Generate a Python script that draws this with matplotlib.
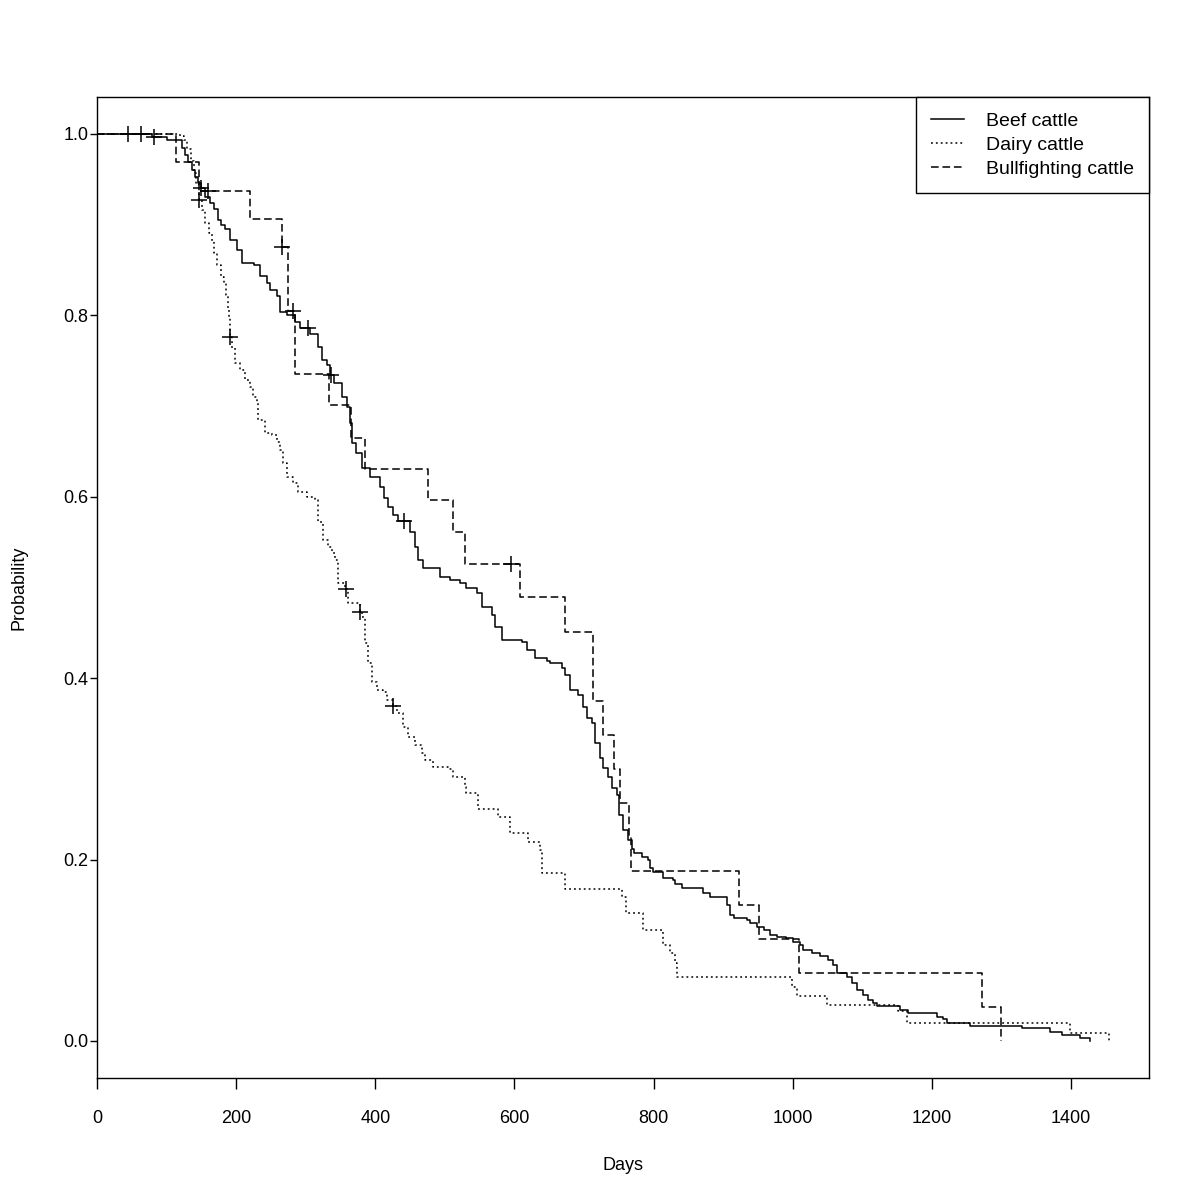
import matplotlib
matplotlib.use("Agg")
import matplotlib.pyplot as plt
import numpy as np

plt.rcParams['font.family'] = ['Liberation Sans', 'DejaVu Sans']

# Kaplan-Meier steps (time in days, survival after the step)
beef_t = [0, 79, 100, 122, 126, 131, 136, 141, 145, 149, 155, 162, 168, 174, 178, 184,
          191, 201, 208, 226, 234, 244, 249, 259, 263, 273, 285, 292, 306, 318, 323,
          330, 335, 340, 352, 359, 364, 366, 373, 381, 393, 407, 412, 418, 426, 433,
          450, 457, 462, 469, 493, 507, 522, 531, 546, 553, 568, 572, 582, 611, 618,
          630, 647, 651, 668, 673, 680, 692, 699, 704, 711, 716, 723, 727, 735, 740,
          747, 750, 756, 763, 769, 772, 783, 792, 795, 799, 814, 828, 831, 841, 871,
          881, 906, 910, 915, 934, 939, 948, 958, 967, 977, 991, 1001, 1010, 1015,
          1028, 1039, 1051, 1058, 1064, 1078, 1085, 1092, 1101, 1108, 1116, 1121,
          1154, 1166, 1207, 1216, 1222, 1255, 1330, 1370, 1387, 1413, 1427]
beef_s = [1.0, 0.997, 0.993, 0.985, 0.977, 0.969, 0.960, 0.953, 0.946, 0.940, 0.931,
          0.924, 0.917, 0.905, 0.900, 0.895, 0.883, 0.872, 0.858, 0.856, 0.843, 0.836,
          0.828, 0.821, 0.804, 0.800, 0.793, 0.786, 0.780, 0.765, 0.751, 0.745, 0.734,
          0.725, 0.710, 0.699, 0.681, 0.659, 0.648, 0.632, 0.622, 0.611, 0.599, 0.589,
          0.580, 0.573, 0.561, 0.545, 0.530, 0.521, 0.512, 0.508, 0.505, 0.499, 0.494,
          0.479, 0.470, 0.456, 0.442, 0.440, 0.431, 0.422, 0.419, 0.417, 0.411, 0.403,
          0.387, 0.381, 0.368, 0.356, 0.351, 0.329, 0.312, 0.301, 0.291, 0.279, 0.271,
          0.249, 0.233, 0.222, 0.212, 0.207, 0.203, 0.200, 0.191, 0.186, 0.180, 0.177,
          0.173, 0.169, 0.163, 0.159, 0.150, 0.139, 0.136, 0.133, 0.130, 0.126, 0.122,
          0.117, 0.115, 0.114, 0.109, 0.106, 0.100, 0.097, 0.094, 0.089, 0.084, 0.075,
          0.071, 0.064, 0.056, 0.051, 0.045, 0.042, 0.038, 0.034, 0.031, 0.026, 0.024,
          0.020, 0.0165, 0.014, 0.010, 0.0066, 0.0033, 0.0]
beef_cens = [45, 63, 82, 150, 304, 336, 441]

dairy_t = [0, 120, 125, 130, 135, 139, 143, 146, 151, 155, 161, 165, 168, 172, 178,
           183, 185, 188, 190, 191, 194, 198, 206, 213, 220, 224, 230, 232, 241, 251,
           259, 263, 267, 273, 282, 289, 302, 313, 318, 325, 332, 338, 342, 347, 357,
           361, 378, 381, 385, 390, 395, 402, 411, 417, 425, 431, 440, 447, 457, 467,
           471, 483, 505, 512, 529, 531, 548, 576, 594, 620, 637, 639, 673, 754, 761,
           785, 813, 824, 831, 834, 999, 1006, 1049, 1151, 1164, 1398, 1455]
dairy_s = [1.0, 0.998, 0.993, 0.983, 0.970, 0.957, 0.945, 0.927, 0.916, 0.902, 0.891,
           0.882, 0.869, 0.855, 0.842, 0.836, 0.822, 0.808, 0.797, 0.776, 0.764, 0.748,
           0.740, 0.729, 0.721, 0.710, 0.703, 0.685, 0.670, 0.668, 0.660, 0.652, 0.637,
           0.622, 0.615, 0.605, 0.600, 0.596, 0.572, 0.552, 0.545, 0.538, 0.530, 0.505,
           0.498, 0.483, 0.473, 0.467, 0.439, 0.417, 0.396, 0.387, 0.385, 0.376, 0.369,
           0.362, 0.346, 0.335, 0.326, 0.317, 0.310, 0.302, 0.300, 0.291, 0.280, 0.273,
           0.256, 0.247, 0.229, 0.219, 0.211, 0.185, 0.168, 0.159, 0.141, 0.122, 0.106,
           0.097, 0.086, 0.071, 0.060, 0.050, 0.040, 0.033, 0.020, 0.009, 0.0]
dairy_cens = [146, 191, 358, 378, 425]

bull_t = [0, 114, 147, 220, 266, 275, 285, 333, 365, 385, 476, 512, 529, 608, 673,
          713, 727, 743, 752, 765, 767, 923, 952, 1009, 1272, 1300]
bull_s = [1.0, 0.969, 0.9375, 0.906, 0.875, 0.805, 0.735, 0.701, 0.665, 0.631, 0.596,
          0.561, 0.526, 0.489, 0.451, 0.375, 0.337, 0.300, 0.262, 0.225, 0.187, 0.150,
          0.112, 0.075, 0.0375, 0.0]
bull_cens = [160, 266, 282, 595]

groups = [
    ("Beef cattle", beef_t, beef_s, beef_cens, "-"),
    ("Dairy cattle", dairy_t, dairy_s, dairy_cens, (0, (1.2, 2.0))),
    ("Bullfighting cattle", bull_t, bull_s, bull_cens, (0, (5, 2.5))),
]

fig = plt.figure(figsize=(12, 12), dpi=100)
ax = fig.add_axes([0.0808, 0.1017, 0.8767, 0.8175])

for name, t, s, cens, ls in groups:
    t = np.array(t, dtype=float)
    s = np.array(s, dtype=float)
    ax.step(t, s, where="post", color="black", lw=1.1, linestyle=ls, label=name)
    idx = np.searchsorted(t, cens, side="right") - 1
    ax.plot(cens, s[idx], linestyle="none", marker="+", color="black",
            markersize=11, markeredgewidth=1.1)

ax.set_xlim(0, 1512)
ax.set_ylim(-0.0408, 1.0408)
ax.set_xticks(np.arange(0, 1401, 200))
ax.set_yticks(np.arange(0, 1.01, 0.2))
ax.set_yticklabels([f"{v:.1f}" for v in np.arange(0, 1.01, 0.2)])
ax.tick_params(direction="out", width=1, labelsize=13, colors="black")
ax.tick_params(axis="x", length=8, pad=15)
ax.tick_params(axis="y", length=5, pad=1)
for sp in ax.spines.values():
    sp.set_linewidth(1)
    sp.set_color("black")

ax.set_xlabel("Days", fontsize=13, labelpad=22)
ax.set_ylabel("Probability", fontsize=13, labelpad=26)

leg = ax.legend(loc="upper right", borderaxespad=0, fontsize=14, frameon=True,
                fancybox=False, edgecolor="black", framealpha=1,
                handlelength=1.7, handletextpad=1.13, labelspacing=0.34,
                borderpad=0.78)
leg.get_frame().set_linewidth(1)

fig.savefig("out.png", dpi=100, facecolor="white")
